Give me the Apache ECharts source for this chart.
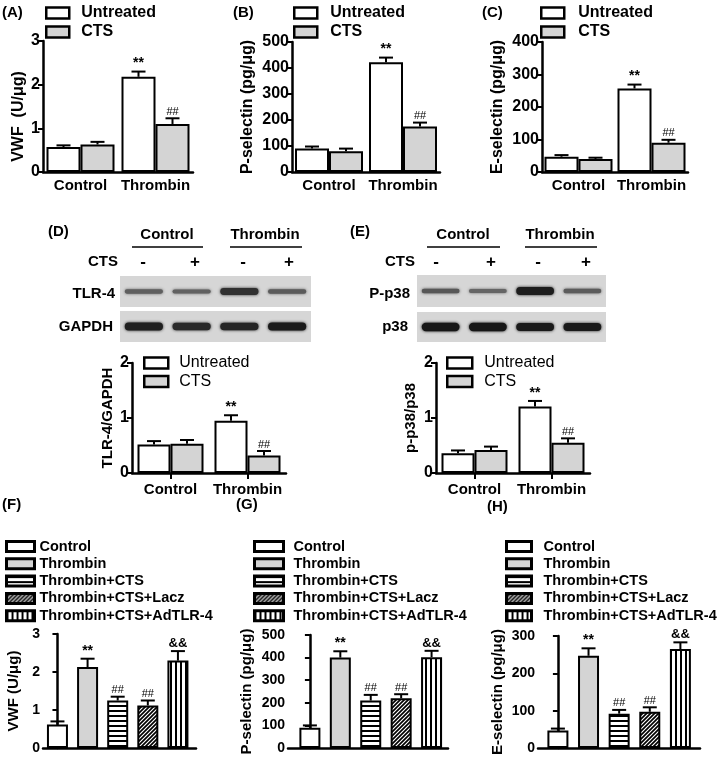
<!DOCTYPE html>
<html>
<head>
<meta charset="utf-8">
<script src="https://cdn.jsdelivr.net/npm/echarts/dist/echarts.min.js"></script>
<style>
  html, body { margin: 0; padding: 0; background: #fff; }
  #chart { width: 720px; height: 758px; }
</style>
</head>
<body>
<div id="chart"></div>
<script>
// ---- data ----
var groups = ["Control", "Thrombin"];
var untreatedMarks = ["", "**"];
var ctsMarks = ["", "##"];

var vwfUntreated = [0.57, 2.18];
var vwfUntreatedErr = [0.04, 0.12];
var vwfCts = [0.63, 1.1];
var vwfCtsErr = [0.06, 0.13];

var pselUntreated = [90, 422];
var pselUntreatedErr = [8, 18];
var pselCts = [80, 175];
var pselCtsErr = [10, 15];

var eselUntreated = [47, 257];
var eselUntreatedErr = [5, 12];
var eselCts = [40, 90];
var eselCtsErr = [4, 9];

var tlr4Untreated = [0.52, 0.95];
var tlr4UntreatedErr = [0.06, 0.1];
var tlr4Cts = [0.53, 0.32];
var tlr4CtsErr = [0.07, 0.08];

var p38Untreated = [0.36, 1.21];
var p38UntreatedErr = [0.05, 0.1];
var p38Cts = [0.42, 0.55];
var p38CtsErr = [0.06, 0.08];

var adGroups = ["Control", "Thrombin", "Thrombin+CTS", "Thrombin+CTS+Lacz", "Thrombin+CTS+AdTLR-4"];
var adMarks = ["", "**", "##", "##", "&&"];
var vwfAd = [0.62, 2.13, 1.25, 1.12, 2.3];
var vwfAdErr = [0.08, 0.22, 0.1, 0.13, 0.25];
var pselAd = [90, 400, 210, 220, 402];
var pselAdErr = [10, 28, 25, 18, 28];
var eselAd = [47, 247, 92, 97, 265];
var eselAdErr = [5, 20, 10, 12, 18];

// western blot lanes (relative band intensity)
var blotLanes = ["1", "2", "3", "4"];
var ctsSigns = ["-", "+", "-", "+"];
var tlr4Band = [0.35, 0.33, 0.75, 0.38];
var gapdhBand = [0.9, 0.82, 0.85, 0.95];
var pp38Band = [0.42, 0.3, 0.92, 0.38];
var p38Band = [0.97, 0.97, 0.95, 0.95];

// ---- helpers ----
var FONT = "'Liberation Sans', Arial, sans-serif";
function font(size, weight) {
  return (weight || "bold") + " " + size + "px " + FONT;
}

function makePattern(kind) {
  var c = document.createElement("canvas");
  var ctx = c.getContext("2d");
  if (kind === "h") {
    c.width = 5; c.height = 5;
    ctx.fillStyle = "#fff"; ctx.fillRect(0, 0, 5, 5);
    ctx.fillStyle = "#000"; ctx.fillRect(0, 0, 5, 2);
  } else if (kind === "v") {
    c.width = 5; c.height = 5;
    ctx.fillStyle = "#fff"; ctx.fillRect(0, 0, 5, 5);
    ctx.fillStyle = "#000"; ctx.fillRect(0, 0, 2, 5);
  } else {
    c.width = 4; c.height = 4;
    ctx.fillStyle = "#fff"; ctx.fillRect(0, 0, 4, 4);
    ctx.strokeStyle = "#000"; ctx.lineWidth = 1.7;
    ctx.beginPath();
    ctx.moveTo(-1, 5); ctx.lineTo(5, -1);
    ctx.moveTo(-3, 3); ctx.lineTo(3, -3);
    ctx.moveTo(1, 7); ctx.lineTo(7, 1);
    ctx.stroke();
  }
  return { image: c, repeat: "repeat" };
}

var adFills = ["#fff", "#d4d4d4", makePattern("h"), makePattern("d"), makePattern("v")];

function errRender(offset, marks, markFonts) {
  return function (params, api) {
    var x = api.value(0), v = api.value(1), e = api.value(2);
    var lo = api.coord([x, v]);
    var hi = api.coord([x, v + e]);
    var cx = lo[0] + offset;
    var w = 7;
    var kids = [
      { type: "line", shape: { x1: cx, y1: lo[1], x2: cx, y2: hi[1] }, style: { stroke: "#000", lineWidth: 2 } },
      { type: "line", shape: { x1: cx - w, y1: hi[1], x2: cx + w, y2: hi[1] }, style: { stroke: "#000", lineWidth: 2 } }
    ];
    var m = marks[params.dataIndex];
    if (m) {
      kids.push({
        type: "text", x: cx, y: hi[1] - 1,
        style: { text: m, align: "center", verticalAlign: "bottom", font: markFonts[m], fill: "#000" }
      });
    }
    return { type: "group", children: kids };
  };
}
var markFonts = { "**": font(14), "##": font(11, "normal"), "&&": font(13) };

function bandRender(params, api) {
  var c = api.coord([api.value(0), 0.5]);
  var lw = api.size([1, 0])[0];
  var k = api.value(1);
  var w = lw * 0.8, h = 2 + 6.5 * k;
  var g = Math.round(135 - 115 * k);
  var col = "rgb(" + g + "," + g + "," + g + ")";
  return {
    type: "rect",
    shape: { x: c[0] - w / 2, y: c[1] - h / 2, width: w, height: h, r: h / 2 },
    style: { fill: col, shadowBlur: 3, shadowColor: col }
  };
}

var grids = [], xAxes = [], yAxes = [], series = [], legends = [], graphics = [];

function yAxisCfg(gi, o) {
  return {
    type: "value", gridIndex: gi, min: 0, max: o.max, interval: o.interval,
    name: o.name, nameLocation: "middle", nameGap: o.nameGap,
    nameTextStyle: { color: "#000", fontSize: o.nameSize, fontWeight: "bold", fontFamily: FONT, padding: o.namePad || 0 },
    axisLine: { show: true, lineStyle: { color: "#000", width: 2.5 } },
    axisTick: { show: true, length: 5, lineStyle: { color: "#000", width: 2 } },
    axisLabel: { color: "#000", fontSize: o.labelSize, fontWeight: "bold", fontFamily: FONT, margin: 3 },
    splitLine: { show: false }
  };
}

function addTopPanel(o) {
  var gi = grids.length;
  grids.push({ left: o.left, top: o.top, width: o.width, height: o.height });
  xAxes.push({
    type: "category", gridIndex: gi, data: groups,
    axisLine: { lineStyle: { color: "#000", width: 2.5 } },
    axisTick: { show: !!o.xTicks, alignWithLabel: true, length: 6, lineStyle: { color: "#000", width: 2 } },
    axisLabel: { color: "#000", fontSize: 15, fontWeight: "bold", fontFamily: FONT, margin: o.xMargin, interval: 0 }
  });
  yAxes.push(yAxisCfg(gi, o));
  var bw = o.barWidth;
  series.push({
    name: "Untreated", type: "bar", xAxisIndex: gi, yAxisIndex: gi, data: o.u,
    barWidth: bw, barGap: "0%", itemStyle: { color: "#fff", borderColor: "#000", borderWidth: 2 }
  });
  series.push({
    name: "CTS", type: "bar", xAxisIndex: gi, yAxisIndex: gi, data: o.c,
    barWidth: bw, barGap: "0%", itemStyle: { color: "#d4d4d4", borderColor: "#000", borderWidth: 2 }
  });
  series.push({
    type: "custom", xAxisIndex: gi, yAxisIndex: gi, z: 5, silent: true,
    data: o.u.map(function (v, i) { return [i, v, o.ue[i]]; }),
    renderItem: errRender(-bw / 2, untreatedMarks, markFonts)
  });
  series.push({
    type: "custom", xAxisIndex: gi, yAxisIndex: gi, z: 5, silent: true,
    data: o.c.map(function (v, i) { return [i, v, o.ce[i]]; }),
    renderItem: errRender(bw / 2, ctsMarks, markFonts)
  });
  legends.push({
    left: o.legLeft, top: o.legTop, orient: "vertical", padding: 0, itemGap: o.legGap,
    itemWidth: o.legIconW, itemHeight: 11, icon: "rect", selectedMode: false,
    data: ["Untreated", "CTS"],
    itemStyle: { borderColor: "#000", borderWidth: 2.5 },
    textStyle: { color: "#000", fontSize: 16, fontWeight: o.legWeight, fontFamily: FONT, lineHeight: 16, padding: [0, 0, 0, o.legPad] }
  });
}

function addAdPanel(o) {
  var gi = grids.length;
  grids.push({ left: o.left, top: o.top, width: o.width, height: o.height });
  xAxes.push({
    type: "value", gridIndex: gi, min: o.xMin, max: o.xMax,
    axisLine: { show: true, onZero: false, lineStyle: { color: "#000", width: 2.5 } },
    axisTick: { show: false }, axisLabel: { show: false }, splitLine: { show: false }
  });
  yAxes.push(yAxisCfg(gi, o));
  adGroups.forEach(function (name, i) {
    series.push({
      name: name, type: "bar", xAxisIndex: gi, yAxisIndex: gi,
      data: [[i, o.v[i]]], barWidth: 21, barGap: "-100%",
      itemStyle: { color: adFills[i], borderColor: "#000", borderWidth: 2 }
    });
  });
  series.push({
    type: "custom", xAxisIndex: gi, yAxisIndex: gi, z: 5, silent: true,
    data: o.v.map(function (v, i) { return [i, v, o.e[i]]; }),
    renderItem: errRender(0, adMarks, markFonts)
  });
  legends.push({
    left: o.legLeft, top: 539, orient: "vertical", padding: 0, itemGap: 2.3,
    itemWidth: o.legIconW, itemHeight: 10, icon: "rect", selectedMode: false,
    data: adGroups,
    itemStyle: { borderColor: "#000", borderWidth: 3 },
    textStyle: { color: "#000", fontSize: 14.5, fontWeight: "bold", fontFamily: FONT, lineHeight: 15, padding: [0, 0, 0, o.legPad] }
  });
}

function addBlot(left, top, width, height, bands) {
  var gi = grids.length;
  grids.push({ left: left, top: top, width: width, height: height, show: true, backgroundColor: "#d6d6d6", borderWidth: 0 });
  xAxes.push({ type: "category", gridIndex: gi, data: blotLanes, show: false });
  yAxes.push({ type: "value", gridIndex: gi, min: 0, max: 1, show: false });
  series.push({
    type: "custom", xAxisIndex: gi, yAxisIndex: gi, silent: true,
    data: bands.map(function (b, i) { return [i, b]; }),
    renderItem: bandRender
  });
}

function txt(x, y, s, f, align) {
  graphics.push({
    type: "text", x: x, y: y, silent: true,
    style: { text: s, font: f, fill: "#000", align: align || "center", verticalAlign: "middle" }
  });
}
function hline(x1, x2, y) {
  graphics.push({ type: "line", silent: true, shape: { x1: x1, y1: y, x2: x2, y2: y }, style: { stroke: "#000", lineWidth: 1.5 } });
}

// ---- panels A-C ----
addTopPanel({
  left: 43, top: 41, width: 150, height: 131, max: 3, interval: 1,
  name: "VWF  (U/μg)", nameGap: 16, nameSize: 16, namePad: [0, 20, 0, 0], labelSize: 16,
  u: vwfUntreated, ue: vwfUntreatedErr, c: vwfCts, ce: vwfCtsErr, barWidth: 34, xMargin: 6,
  legLeft: 45, legTop: 5, legGap: 3, legIconW: 23, legPad: 7, legWeight: "bold"
});
addTopPanel({
  left: 292, top: 42, width: 148, height: 130, max: 500, interval: 100,
  name: "P-selectin (pg/μg)", nameGap: 36, nameSize: 16, labelSize: 16,
  u: pselUntreated, ue: pselUntreatedErr, c: pselCts, ce: pselCtsErr, barWidth: 34, xMargin: 6,
  legLeft: 293, legTop: 5, legGap: 3, legIconW: 23, legPad: 8, legWeight: "bold"
});
addTopPanel({
  left: 542, top: 42, width: 146, height: 130, max: 400, interval: 100,
  name: "E-selectin (pg/μg)", nameGap: 36, nameSize: 16, labelSize: 16,
  u: eselUntreated, ue: eselUntreatedErr, c: eselCts, ce: eselCtsErr, barWidth: 34, xMargin: 6,
  legLeft: 540, legTop: 5, legGap: 3, legIconW: 23, legPad: 9, legWeight: "bold"
});

// ---- panels D, E (blots + quantification) ----
addBlot(120, 276, 191, 31, tlr4Band);
addBlot(120, 311, 191, 31, gapdhBand);
addBlot(417, 275, 189, 32, pp38Band);
addBlot(417, 312, 189, 30, p38Band);

addTopPanel({
  left: 132, top: 363, width: 154, height: 110, max: 2, interval: 1,
  name: "TLR-4/GAPDH", nameGap: 17, nameSize: 15, labelSize: 16,
  u: tlr4Untreated, ue: tlr4UntreatedErr, c: tlr4Cts, ce: tlr4CtsErr, barWidth: 33, xMargin: 9, xTicks: true,
  legLeft: 143, legTop: 355, legGap: 2.5, legIconW: 24, legPad: 6, legWeight: "normal"
});
addTopPanel({
  left: 436, top: 363, width: 154, height: 110, max: 2, interval: 1,
  name: "p-p38/p38", nameGap: 18, nameSize: 15, labelSize: 16,
  u: p38Untreated, ue: p38UntreatedErr, c: p38Cts, ce: p38CtsErr, barWidth: 33, xMargin: 9, xTicks: true,
  legLeft: 446, legTop: 355, legGap: 2.5, legIconW: 25, legPad: 7, legWeight: "normal"
});

// ---- panels F-H ----
addAdPanel({
  left: 43, top: 634, width: 153, height: 114, max: 3, interval: 1, xMin: -0.48, xMax: 4.6,
  name: "VWF (U/μg)", nameGap: 22, nameSize: 15, labelSize: 14,
  v: vwfAd, e: vwfAdErr, legLeft: 5, legIconW: 28, legPad: 0
});
addAdPanel({
  left: 288, top: 635, width: 160, height: 113, max: 500, interval: 100, xMin: -0.72, xMax: 4.54,
  name: "P-selectin (pg/μg)", nameGap: 34, nameSize: 15, labelSize: 14,
  v: pselAd, e: pselAdErr, legLeft: 253, legIconW: 29, legPad: 5
});
addAdPanel({
  left: 538, top: 636, width: 162, height: 112, max: 300, interval: 100, xMin: -0.65, xMax: 4.64,
  name: "E-selectin (pg/μg)", nameGap: 33, nameSize: 15, labelSize: 14,
  v: eselAd, e: eselAdErr, legLeft: 505, legIconW: 25, legPad: 7
});

// ---- text furniture ----
var pf = font(15);
txt(2, 13, "(A)", pf, "left");
txt(233, 13, "(B)", pf, "left");
txt(482, 13, "(C)", pf, "left");
txt(48, 232, "(D)", pf, "left");
txt(350, 232, "(E)", pf, "left");
txt(2, 505, "(F)", pf, "left");
txt(236, 505, "(G)", pf, "left");
txt(487, 507, "(H)", pf, "left");

// blot headers D
txt(167, 235, "Control", font(15));
hline(132, 203, 247);
txt(265, 235, "Thrombin", font(15));
hline(230, 302, 247);
txt(118, 262, "CTS", font(15), "right");
[143, 195, 243, 289].forEach(function (x, i) { txt(x, 262, ctsSigns[i], font(17)); });
txt(115, 294, "TLR-4", font(15), "right");
txt(113, 327, "GAPDH", font(15), "right");

// blot headers E
txt(463, 235, "Control", font(15));
hline(427, 500, 247);
txt(560, 235, "Thrombin", font(15));
hline(525, 597, 247);
txt(415, 262, "CTS", font(15), "right");
[436, 491, 538, 586].forEach(function (x, i) { txt(x, 262, ctsSigns[i], font(17)); });
txt(410, 294, "P-p38", font(15), "right");
txt(408, 327, "p38", font(15), "right");

var chart = echarts.init(document.getElementById("chart"), null, { renderer: "canvas" });
chart.setOption({
  animation: false,
  backgroundColor: "#fff",
  textStyle: { fontFamily: FONT },
  grid: grids,
  xAxis: xAxes,
  yAxis: yAxes,
  legend: legends,
  series: series,
  graphic: graphics
});
</script>
</body>
</html>
